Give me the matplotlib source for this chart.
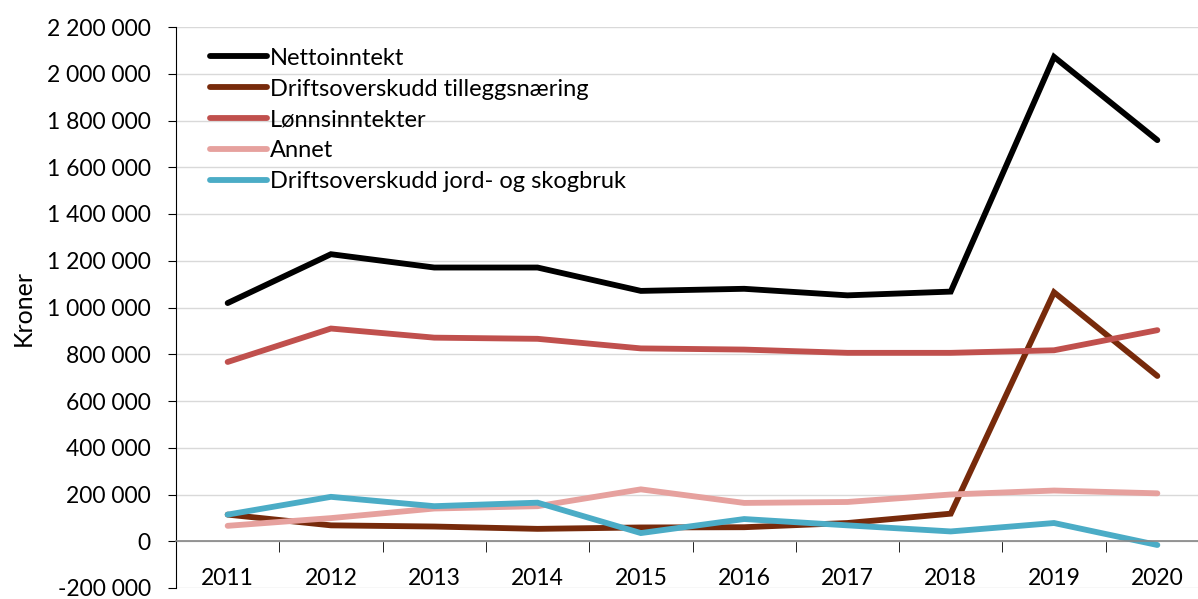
import matplotlib
matplotlib.use("Agg")
import matplotlib.pyplot as plt
from matplotlib.ticker import FuncFormatter, MultipleLocator, FixedLocator

years = ["2011", "2012", "2013", "2014", "2015", "2016", "2017", "2018", "2019", "2020"]

nettoinntekt = [1019000, 1228000, 1171000, 1171000, 1071000, 1080000, 1052000, 1068000, 2072000, 1716000]
tilleggsnaering = [114000, 68000, 63000, 53000, 59000, 60000, 78000, 118000, 1065000, 707000]
lonnsinntekter = [767000, 910000, 871000, 866000, 825000, 820000, 806000, 806000, 817000, 903000]
annet = [66000, 99000, 140000, 150000, 222000, 164000, 168000, 200000, 217000, 205000]
jord_skog = [114000, 190000, 150000, 165000, 35000, 95000, 68000, 42000, 78000, -16000]

series = [
    ("Nettoinntekt", nettoinntekt, "#000000"),
    ("Driftsoverskudd tilleggsnæring", tilleggsnaering, "#772A0B"),
    ("Lønnsinntekter", lonnsinntekter, "#C0504D"),
    ("Annet", annet, "#E6A19E"),
    ("Driftsoverskudd jord- og skogbruk", jord_skog, "#4BACC6"),
]

plt.rcParams["font.family"] = ["Lato", "DejaVu Sans"]

fig = plt.figure(figsize=(11.98, 5.99), dpi=100)
ax = fig.add_axes([176 / 1198, 1 - 588 / 599, (1209 - 176) / 1198, (588 - 27) / 599])

x = list(range(len(years)))
for label, vals, color in series:
    ax.plot(x, vals, color=color, lw=4.2, label=label, solid_capstyle="round", solid_joinstyle="miter")

ax.set_xlim(-0.5, len(years) - 0.5)
ax.set_ylim(-200000, 2200000)
ax.yaxis.set_major_locator(MultipleLocator(200000))
ax.yaxis.set_major_formatter(FuncFormatter(lambda v, p: f"{v:,.0f}".replace(",", " ")))
ax.grid(axis="y", color="#D9D9D9", lw=1)
ax.set_axisbelow(True)

for s in ["top", "right"]:
    ax.spines[s].set_visible(False)
ax.spines["bottom"].set_position(("data", 0))
ax.spines["bottom"].set_color("#868686")
ax.spines["bottom"].set_linewidth(1.2)
ax.spines["left"].set_color("#000000")
ax.spines["left"].set_linewidth(0.8)

ax.set_xticks(x)
ax.set_xticklabels(years)
ax.xaxis.set_minor_locator(FixedLocator([i + 0.5 for i in x[:-1]]))
ax.tick_params(axis="x", which="major", length=0, pad=19, labelsize=16.5)
ax.tick_params(axis="x", which="minor", length=8, direction="out", color="#000000")
ax.tick_params(axis="y", length=6, labelsize=16.5, pad=12)

ax.set_ylabel("Kroner", fontsize=18, labelpad=9)

ax.legend(loc="upper left", bbox_to_anchor=(0.024, 0.98), frameon=False, fontsize=17,
          handlelength=2.4, handletextpad=0.12, labelspacing=0.42, borderaxespad=0)

fig.savefig("out.png", dpi=100)
